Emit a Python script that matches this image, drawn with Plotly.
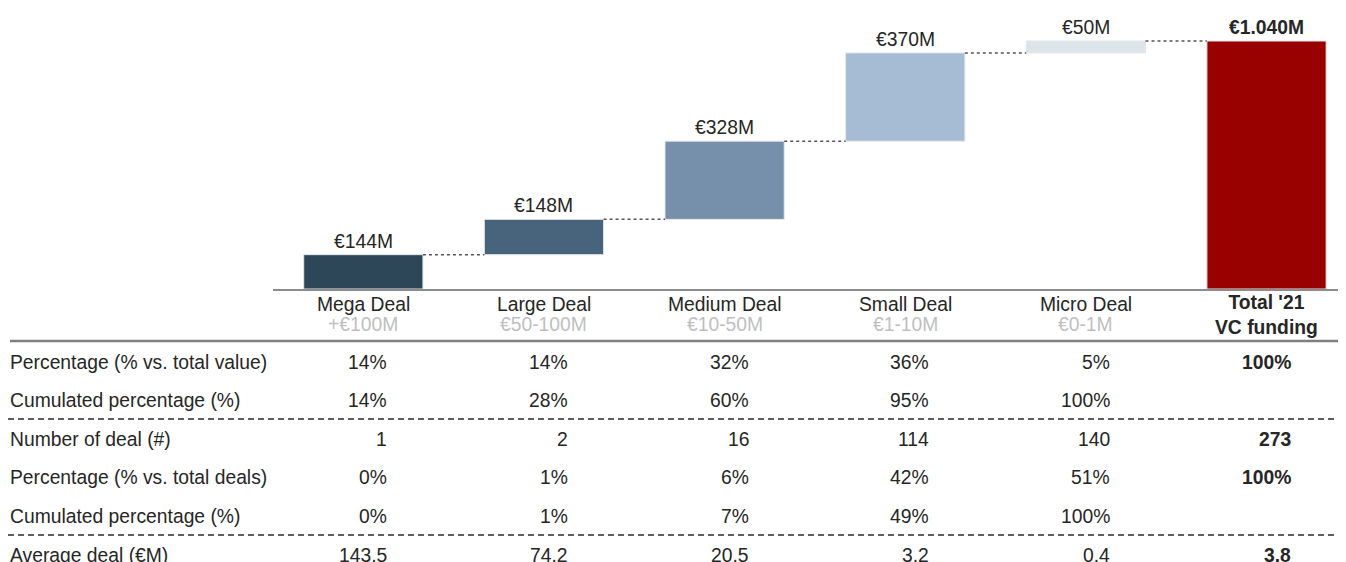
import plotly.graph_objects as go

categories = ["Mega Deal", "Large Deal", "Medium Deal", "Small Deal", "Micro Deal", "Total '21<br>VC funding"]
sublabels = ["+€100M", "€50-100M", "€10-50M", "€1-10M", "€0-1M", ""]
values = [144, 148, 328, 370, 50]
total_value = 1040
bar_labels = ["€144M", "€148M", "€328M", "€370M", "€50M", "€1.040M"]
bar_colors = ["#2D4658", "#48637C", "#7690AB", "#A6BBD4", "#DCE5EA", "#990000"]

row_labels = ["Percentage (% vs. total value)", "Cumulated percentage (%)", "Number of deal (#)",
              "Percentage (% vs. total deals)", "Cumulated percentage (%)", "Average deal (€M)"]
table = [
    ["14%", "14%", "32%", "36%", "5%", "100%"],
    ["14%", "28%", "60%", "95%", "100%", ""],
    ["1", "2", "16", "114", "140", "273"],
    ["0%", "1%", "6%", "42%", "51%", "100%"],
    ["0%", "1%", "7%", "49%", "100%", ""],
    ["143.5", "74.2", "20.5", "3.2", "0.4", "3.8"],
]

OFF = 8  # page body margin
W, H = 1346 - OFF, 562 - OFF
FONT = "Liberation Sans, Arial, sans-serif"
TXT = "#262626"
FS = 19.3

bases, tops = [], []
cum = 0
for v in values:
    bases.append(cum)
    cum += v
    tops.append(cum)
bases.append(0)
tops.append(total_value)
heights = [t - b for t, b in zip(tops, bases)]
xs = list(range(len(categories)))

fig = go.Figure()
fig.add_trace(go.Bar(
    x=xs, y=heights, base=bases, width=0.66,
    marker=dict(color=bar_colors, line=dict(color="#E3E6E8", width=1)),
    hoverinfo="skip",
))

def py(px):
    return 1 - (px - OFF) / H

def pxx(px):
    return (px - OFF) / W

ann = []
for i, (t, lab) in enumerate(zip(tops, bar_labels)):
    bold = i == len(bar_labels) - 1
    ann.append(dict(x=i, y=t, xref="x", yref="y", text=f"<b>{lab}</b>" if bold else lab,
                    showarrow=False, yanchor="bottom", yshift=1,
                    font=dict(size=FS, color=TXT, family=FONT)))
for i, (c, s) in enumerate(zip(categories, sublabels)):
    if s:
        ann.append(dict(x=i, y=py(304), xref="x", yref="paper", text=c, showarrow=False,
                        yanchor="middle", font=dict(size=FS, color=TXT, family=FONT)))
        ann.append(dict(x=i, y=py(324), xref="x", yref="paper", text=s, showarrow=False,
                        yanchor="middle", font=dict(size=FS, color="#BFBFBF", family=FONT)))
    else:
        ann.append(dict(x=i, y=py(315), xref="x", yref="paper", text=f"<b>{c}</b>", showarrow=False,
                        yanchor="middle", font=dict(size=FS, color=TXT, family=FONT)))
row_y = [362, 400, 439, 477, 516, 555]
for r, (lab, vals) in enumerate(zip(row_labels, table)):
    ann.append(dict(x=pxx(8), y=py(row_y[r]), xref="paper", yref="paper", text=lab,
                    showarrow=False, xanchor="left", yanchor="middle",
                    font=dict(size=FS, color=TXT, family=FONT)))
    for i, v in enumerate(vals):
        if not v:
            continue
        bold = i == len(vals) - 1
        ann.append(dict(x=i, y=py(row_y[r]), xref="x", yref="paper",
                        text=f"<b>{v}</b>" if bold else v, showarrow=False,
                        xanchor="right", yanchor="middle", xshift=26,
                        font=dict(size=FS, color=TXT, family=FONT)))

shapes = []
for i in range(len(tops) - 1):
    shapes.append(dict(type="line", xref="x", yref="y", x0=i + 0.33, x1=i + 1 - 0.33,
                       y0=tops[i], y1=tops[i], line=dict(color="#555555", width=1.5, dash="dot")))
shapes.append(dict(type="line", xref="paper", yref="paper", x0=pxx(10), x1=1, y0=py(341), y1=py(341),
                   line=dict(color="#7F7F7F", width=2.5)))
for yy in [419, 535]:
    shapes.append(dict(type="line", xref="paper", yref="paper", x0=pxx(8), x1=1, y0=py(yy), y1=py(yy),
                       line=dict(color="#5F5F5F", width=2, dash="6px,4px")))

fig.update_layout(
    width=W, height=H,
    margin=dict(l=0, r=0, t=0, b=0),
    paper_bgcolor="white", plot_bgcolor="white",
    showlegend=False,
    xaxis=dict(domain=[pxx(273), 1], range=[-0.5, 5.44], showticklabels=False, showgrid=False,
               zeroline=False, showline=True, linecolor="#8C8C8C", linewidth=1.5, ticks=""),
    yaxis=dict(domain=[py(289), 1], range=[0, (289 - OFF) * 1040 / 248], visible=False,
               showgrid=False, zeroline=False),
    annotations=ann, shapes=shapes,
    font=dict(family=FONT, color=TXT),
)

fig.write_html("out.html")
